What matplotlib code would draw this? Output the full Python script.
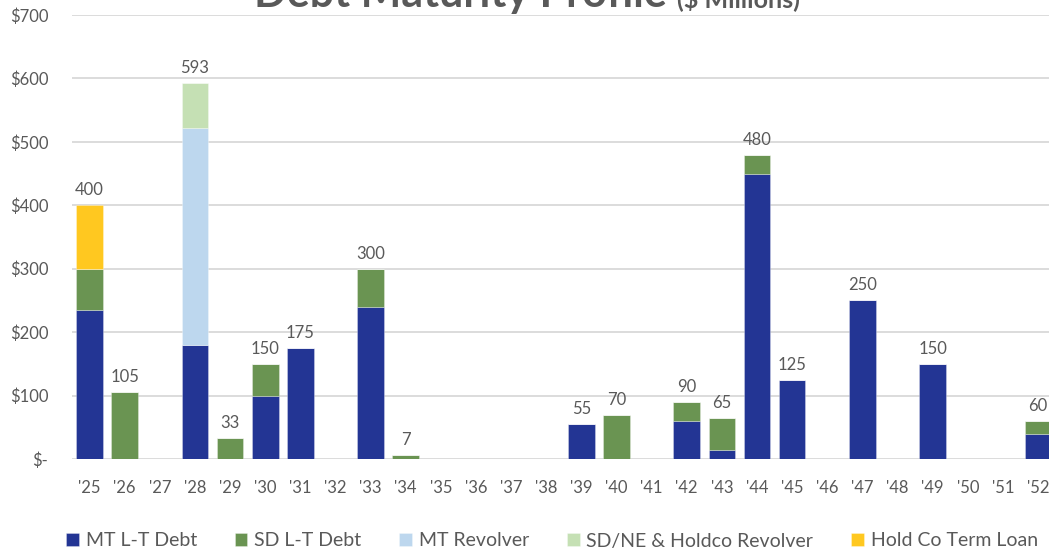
import matplotlib
matplotlib.use("Agg")
import matplotlib.pyplot as plt
import numpy as np

years = ["'25", "'26", "'27", "'28", "'29", "'30", "'31", "'32", "'33", "'34", "'35", "'36", "'37", "'38",
         "'39", "'40", "'41", "'42", "'43", "'44", "'45", "'46", "'47", "'48", "'49", "'50", "'51", "'52"]
mt_lt_debt    = [235, 0, 0, 180, 0, 100, 175, 0, 240, 0, 0, 0, 0, 0, 55, 0, 0, 60, 14, 450, 125, 0, 250, 0, 150, 0, 0, 40]
sd_lt_debt    = [65, 105, 0, 0, 33, 50, 0, 0, 60, 7, 0, 0, 0, 0, 0, 70, 0, 30, 51, 30, 0, 0, 0, 0, 0, 0, 0, 20]
mt_revolver   = [0, 0, 0, 342, 0, 0, 0, 0, 0, 0, 0, 0, 0, 0, 0, 0, 0, 0, 0, 0, 0, 0, 0, 0, 0, 0, 0, 0]
sdne_revolver = [0, 0, 0, 71, 0, 0, 0, 0, 0, 0, 0, 0, 0, 0, 0, 0, 0, 0, 0, 0, 0, 0, 0, 0, 0, 0, 0, 0]
holdco_term   = [100, 0, 0, 0, 0, 0, 0, 0, 0, 0, 0, 0, 0, 0, 0, 0, 0, 0, 0, 0, 0, 0, 0, 0, 0, 0, 0, 0]
totals_labels = [400, 105, None, 593, 33, 150, 175, None, 300, 7, None, None, None, None, 55, 70, None, 90, 65, 480, 125, None, 250, None, 150, None, None, 60]
yticks = [0, 100, 200, 300, 400, 500, 600, 700]
ytick_labels = ["$-", "$100", "$200", "$300", "$400", "$500", "$600", "$700"]

series = [
    ("MT L-T Debt", mt_lt_debt, "#233594"),
    ("SD L-T Debt", sd_lt_debt, "#6A9452"),
    ("MT Revolver", mt_revolver, "#BDD7EE"),
    ("SD/NE & Holdco Revolver", sdne_revolver, "#C5E0B4"),
    ("Hold Co Term Loan", holdco_term, "#FFC820"),
]

plt.rcParams['font.family'] = ['Lato', 'DejaVu Sans']
grey = "#595959"

fig = plt.figure(figsize=(10.49, 5.51), dpi=100)
ax = fig.add_axes([72/1049, 1-459/551, (1055.6-72)/1049, (459-15)/551])

x = np.arange(len(years))
bottom = np.zeros(len(years))
for name, vals, col in series:
    v = np.array(vals, dtype=float)
    ax.bar(x, v, width=0.76, bottom=bottom, color=col, label=name, zorder=3,
           edgecolor=(1, 1, 1, 0.35), linewidth=0.6)
    bottom += v

for i, t in enumerate(totals_labels):
    if t is not None:
        ax.text(x[i], bottom[i] + 11, str(t), ha='center', va='bottom', fontsize=12, color=grey)

ax.set_xlim(-0.5, len(years) - 0.5)
ax.set_ylim(0, 700)
ax.set_yticks(yticks)
ax.set_yticklabels(ytick_labels)
ax.set_xticks(x)
ax.set_xticklabels(years)
ax.grid(axis='y', color='#D9D9D9', linewidth=1.3, zorder=0)
for s in ax.spines.values():
    s.set_visible(False)
ax.tick_params(axis='both', length=0, colors=grey, labelsize=12)
ax.tick_params(axis='x', pad=15)
ax.tick_params(axis='y', pad=17)

fig.text(667/1049, 1 - 7/551, "Debt Maturity Profile", ha='right', va='baseline', fontsize=31,
         fontweight='bold', color=grey)
fig.text(677/1049, 1 - 7/551, "($ Millions)", ha='left', va='baseline', fontsize=18,
         fontweight='bold', color=grey)

handles, labels = ax.get_legend_handles_labels()
fig.legend(handles, labels, loc='center', bbox_to_anchor=(552/1049, 1 - 541/551), ncol=5,
           frameon=False, fontsize=14, labelcolor=grey, handlelength=0.65, handleheight=0.65,
           handletextpad=0.35, columnspacing=1.95)

fig.savefig("out.png", dpi=100)
